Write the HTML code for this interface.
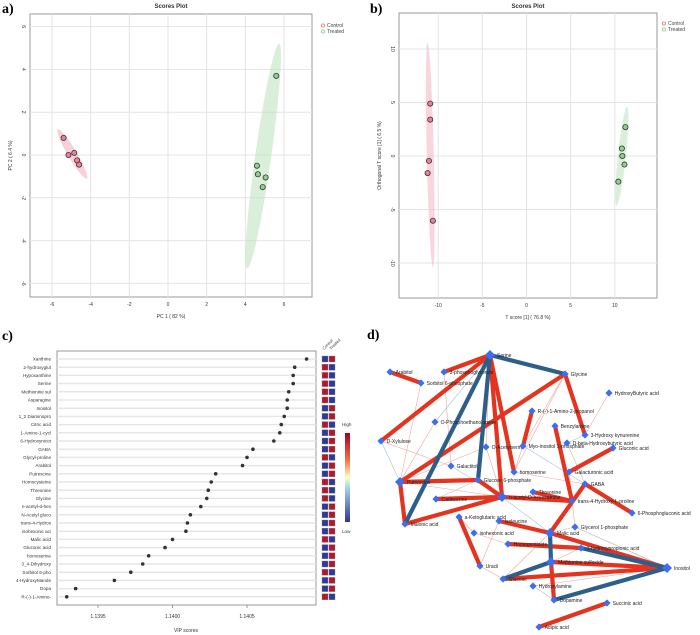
<!DOCTYPE html>
<html><head><meta charset="utf-8"><style>
body{margin:0;background:#fff;}
svg{display:block;font-family:"Liberation Sans",sans-serif;}
</style></head><body>
<svg id="fig" width="700" height="635" viewBox="0 0 700 635"></svg>
<script>
// ---- Panel a data
const aCtrlX=[-5.4,-5.15,-4.85,-4.7,-4.6];
const aCtrlY=[0.8,0.0,0.1,-0.25,-0.45];
const aTrtX=[5.6,4.6,4.65,5.05,4.9];
const aTrtY=[3.7,-0.5,-0.9,-1.05,-1.5];
const aXTicks=[-6,-4,-2,0,2,4,6];
const aYTicks=[6,4,2,0,-2,-4,-6];
// ---- Panel b data
const bCtrlX=[-10.9,-10.9,-11.05,-11.2,-10.6];
const bCtrlY=[4.9,3.4,-0.45,-1.6,-6.05];
const bTrtX=[11.2,10.8,10.85,11.1,10.4];
const bTrtY=[2.7,0.7,0.0,-0.8,-2.4];
const bXTicks=[-10,-5,0,5,10];
const bYTicks=[10,5,0,-5,-10];
// ---- Panel c data
const vipNames=["Xanthine","2-hydroxyglut","Hypoxanthine","Serine","Methionine sul","Asparagine","Inositol","1_2 Diaminopro","Citric acid","1-Amino-1-cycl","6-Hydroxynicot","GABA","Glycyl-proline","Arabitol","Putrescine","Homocysteine","Threonine","Glycine","n-acetyl-d-hex","N-Acetyl gluco","trans-4-Hydrox","isohexonic aci","Malic acid","Gluconic acid","homoserine","3_4-Dihydroxy","Sorbitol 6-pho","4-HydroxyMande","Dopa","R-(-)-1-Amino-"];
const vipValues=[1.14090,1.14082,1.14081,1.14081,1.14078,1.14077,1.14077,1.14075,1.14073,1.14072,1.14068,1.14054,1.14050,1.14047,1.14029,1.14026,1.14024,1.14023,1.14019,1.14012,1.14010,1.14009,1.14000,1.13995,1.13984,1.13980,1.13972,1.13961,1.13935,1.13929];
const ctrlHigh=[0,1,1,1,1,1,0,0,1,0,0,0,1,0,0,1,1,1,0,0,0,0,1,0,0,0,1,0,0,1];
const vipTicks=[1.1395,1.1400,1.1405];
// ---- Panel d data
const nodeNames=["Serine","Arabitol","Sorbitol 6-phosphate","3-phosphoglycerate","Glycine","HydroxyButyric acid","R-(-)-1-Amino-2-propanol","O-Phosphoethanolamine","Benzylamine","3-Hydroxy kynurenine","D-Xylulose","O-Acetylserine","Myo-inositol 1-phosphate","D-beta-Hydroxybutyric acid","Gluconic acid","Galactitol","homoserine","Galacturonic acid","Putrescine","Glucose 6-phosphate","GABA","Threonine","n-acetyl-D-hexosamine","Cadaverine","trans-4-Hydroxy-L-proline","6-Phosphogluconic acid","a-Ketoglutaric acid","Malonic acid","Isoleucine","Glycerol 1-phosphate","isohexonic acid","Malic acid","Homogentisate","3-hydroxypropionic acid","Uracil","Methionine sulfoxide","Inositol","Glucose","Hydroxylamine","Dopamine","Succinic acid","Adipic acid"];
const nodeX=[490,390,421,444,565,609,532,435,555,585,381,486,523,567,613,451,514,569,400,478,585,533,502,436,572,632,459,405,499,575,474,550,508,581,480,551,667,503,533,554,607,539];
const nodeY=[355,372,383,372,374,393,411,422,426,435,441,447,446,443,448,466,472,472,482,480,484,492,497,499,501,513,517,524,521,527,533,533,544,548,566,562,568,579,586,600,603,627];
// edges: [from,to,type] type 0 thin red,1 thin blue,2 thick red,3 thick blue
const edgeFrom=[0,0,0,0,0,0,0,1,4,4,6,8,14,20,20,24,21,18,18,23,27,19,26,28,31,31,35,33,32,37,37,39,35,40,0,0,4,4,10,10,18,18,7,11,15,12,16,22,22,31,29,33,34,30,38,38,17,13,5,9,25,3,2,19,36,36,26,28,12,31];
const edgeTo=[10,27,19,22,16,4,3,2,18,9,12,24,17,25,31,22,24,19,27,22,22,22,34,31,36,35,39,36,33,35,36,36,36,41,11,7,12,16,18,15,22,11,18,22,22,16,20,24,31,29,36,35,37,32,36,39,29,20,9,13,20,15,18,23,33,29,30,34,20,37];
const edgeType=[2,3,3,2,2,3,2,2,2,2,2,2,2,2,2,2,2,2,2,2,2,2,2,2,2,3,2,3,2,3,2,3,2,2,0,1,0,0,1,0,0,0,0,0,1,0,0,0,1,0,1,0,0,0,0,1,0,0,0,1,0,0,0,1,1,0,0,0,1,0];

const NS="http://www.w3.org/2000/svg";
const svg=document.getElementById('fig');
function mk(tag,attrs,parent,txt){const e=document.createElementNS(NS,tag);for(const k in attrs)e.setAttribute(k,attrs[k]);if(txt!==undefined)e.textContent=txt;(parent||svg).appendChild(e);return e;}

function scatterPanel(o){
  const g=mk('g',{});
  
  
  const sx=v=>o.x0+v*o.kx, sy=v=>o.y0-v*o.ky;
  mk('rect',{x:o.L,y:o.T,width:o.R-o.L,height:o.B-o.T,fill:'#fff',stroke:'#999','stroke-width':1},g);
  o.xt.forEach(t=>{mk('line',{x1:sx(t),x2:sx(t),y1:o.T,y2:o.B,stroke:'#e4e4e4','stroke-width':1},g);
    const tl=mk('text',{x:sx(t),y:o.B+9,'font-size':5,'text-anchor':'middle',fill:'#333'},g,t);
    });
  o.yt.forEach(t=>{mk('line',{x1:o.L,x2:o.R,y1:sy(t),y2:sy(t),stroke:'#e4e4e4','stroke-width':1},g);
    const tl=mk('text',{x:o.L-8,y:sy(t),'font-size':5,'text-anchor':'middle',fill:'#333',transform:`rotate(90 ${o.L-8} ${sy(t)})`},g,t);
    });
  o.ell.forEach(e=>{const x1=sx(e[0]),y1=sy(e[1]),x2=sx(e[2]),y2=sy(e[3]);
    const cx=(x1+x2)/2,cy=(y1+y2)/2,len=Math.hypot(x2-x1,y2-y1)/2,ang=Math.atan2(y2-y1,x2-x1)*180/Math.PI;
    const el=mk('ellipse',{cx:cx,cy:cy,rx:len,ry:e[4],fill:e[5],opacity:0.55,transform:`rotate(${ang} ${cx} ${cy})`},g);
    });
  o.series.forEach(s=>{s.xs.forEach((v,i)=>{const c=mk('circle',{cx:sx(v),cy:sy(s.ys[i]),r:2.6,fill:s.col,stroke:'#333','stroke-width':0.8},g);
    });});
  const ti=mk('text',{x:(o.L+o.R)/2,y:8,'font-size':6,'font-weight':'bold','text-anchor':'middle',fill:'#333'},g,'Scores Plot');
  
  const xl=mk('text',{x:(o.L+o.R)/2,y:o.B+21,'font-size':5,'text-anchor':'middle',fill:'#333'},g,o.xlab);
  
  const yx=o.L-18,yy=(o.T+o.B)/2;
  const yl=mk('text',{x:yx,y:yy,'font-size':5,'text-anchor':'middle',fill:'#333',transform:`rotate(-90 ${yx} ${yy})`},g,o.ylab);
  
  [['Control','#ee7f96',o.lx,o.ly],['Treated','#8fd08f',o.lx,o.ly+6]].forEach(l=>{
    const le=mk('g',{},g);
    mk('circle',{cx:l[2],cy:l[3]-1.5,r:1.6,fill:'none',stroke:l[1],'stroke-width':0.9},le);
    mk('text',{x:l[2]+4,y:l[3],'font-size':5,fill:'#444'},le,l[0]);});
  const pl=mk('text',{x:o.px,y:o.py,'font-size':14,'font-weight':'bold','font-family':'Liberation Serif',fill:'#000'},g,o.plab);
  
}
scatterPanel({name:'pca-scores-plot',L:30,R:312,T:14,B:297,x0:168,kx:19.33,y0:155,ky:21.4,xt:aXTicks,yt:aYTicks,
  ell:[[-5.7,1.2,-4.2,-1.1,4.5,'#f0a9b9'],[5.75,5.2,4.1,-5.3,8,'#b9e2b9']],
  series:[{xs:aCtrlX,ys:aCtrlY,col:'#ee7f96',nm:'control'},{xs:aTrtX,ys:aTrtY,col:'#8fd08f',nm:'treated'}],
  xlab:'PC 1 ( 82 %)',ylab:'PC 2 ( 6.4 %)',lx:323,ly:27,px:2,py:13,plab:'a)'});
scatterPanel({name:'oplsda-scores-plot',L:399,R:657,T:13,B:298,x0:526.5,kx:8.83,y0:156,ky:10.7,xt:bXTicks,yt:bYTicks,
  ell:[[-11.2,10.6,-10.6,-10.4,3.5,'#f4b3c3'],[11.4,4.6,10.2,-4.6,4,'#b9e2b9']],
  series:[{xs:bCtrlX,ys:bCtrlY,col:'#ee7f96',nm:'control'},{xs:bTrtX,ys:bTrtY,col:'#8fd08f',nm:'treated'}],
  xlab:'T score [1] ( 76.8 %)',ylab:'Orthogonal T score [1] ( 6.5 %)',lx:664,ly:25,px:370,py:13,plab:'b)'});

// ---- Panel c
(function(){
  const g=mk('g',{});
  const L=57,R=316,T=351,B=605,y0=359,step=8.2;
  const sx=v=>98+(v-1.1395)/0.0005*74.5;
  mk('rect',{x:L,y:T,width:R-L,height:B-T,fill:'#fff',stroke:'#999','stroke-width':1},g);
  vipNames.forEach((n,i)=>{const y=y0+i*step;
    mk('line',{x1:L,x2:R,y1:y,y2:y,stroke:'#e6e6e6','stroke-width':1.5},g);
    const t=mk('text',{x:L-6,y:y+1.6,'font-size':4.6,'text-anchor':'end',fill:'#333'},g,n);
    
    const c=mk('circle',{cx:sx(vipValues[i]),cy:y,r:1.8,fill:'#333'},g);
    
    const h=ctrlHigh[i];
    const r1=mk('rect',{x:322,y:y-3,width:6,height:6,fill:h?'#b0182e':'#2c3a9a',stroke:'#888','stroke-width':0.4},g);
    
    const r2=mk('rect',{x:329,y:y-3,width:6,height:6,fill:h?'#2c3a9a':'#b0182e',stroke:'#888','stroke-width':0.4},g);
    
  });
  vipTicks.forEach(t=>{mk('line',{x1:sx(t),x2:sx(t),y1:B,y2:B+3,stroke:'#999'},g);
    const tl=mk('text',{x:sx(t),y:B+13,'font-size':5,'text-anchor':'middle',fill:'#333'},g,t.toFixed(4));
    });
  const xl=mk('text',{x:186,y:632,'font-size':5,'text-anchor':'middle',fill:'#333'},g,'VIP scores');
  
  mk('text',{x:324,y:350,'font-size':4,fill:'#333',transform:'rotate(-45 324 350)'},g,'Control');
  mk('text',{x:331,y:350,'font-size':4,fill:'#333',transform:'rotate(-45 331 350)'},g,'Treated');
  const defs=mk('defs',{});
  const lg=mk('linearGradient',{id:'cb',x1:0,y1:0,x2:0,y2:1},defs);
  [['0','#a50026'],['0.3','#f46d43'],['0.5','#ffffbf'],['0.6','#abd9e9'],['1','#313695']].forEach(s=>mk('stop',{offset:s[0],'stop-color':s[1]},lg));
  const cb=mk('rect',{x:345,y:433,width:5,height:89,fill:'url(#cb)'},g);
  
  mk('text',{x:342,y:426,'font-size':4.6,fill:'#333'},g,'High');
  mk('text',{x:342,y:533,'font-size':4.6,fill:'#333'},g,'Low');
  const pl=mk('text',{x:2,y:340,'font-size':14,'font-weight':'bold','font-family':'Liberation Serif',fill:'#000'},g,'c)');
  
})();

// ---- Panel d
(function(){
  const g=mk('g',{});
  const order=[0,1,2,3].map(t=>edgeType.map((v,i)=>v===t?i:-1).filter(i=>i>=0));
  order.forEach(list=>list.forEach(i=>{const a=edgeFrom[i],b=edgeTo[i],t=edgeType[i];
    const col=t===0?'#f2a4a0':t===1?'#a8c2d8':t===2?'#e4331f':'#2d5f8a';
    const w=t<2?0.6:4.2;
    const l=mk('line',{x1:nodeX[a],y1:nodeY[a],x2:nodeX[b],y2:nodeY[b],stroke:col,'stroke-width':w},g);
    }));
  nodeNames.forEach((n,i)=>{const x=nodeX[i],y=nodeY[i];
    const big=[0,18,22,31,35,36].includes(i)?5:3.6;
    const nd=mk('g',{},g);
    mk('polygon',{points:`${x},${y-big} ${x+big},${y} ${x},${y+big} ${x-big},${y}`,fill:'#3d6ef0'},nd);
    mk('text',{x:x+big+2,y:y+1.8,'font-size':5,fill:'#222'},nd,n);});
  const pl=mk('text',{x:367,y:339,'font-size':14,'font-weight':'bold','font-family':'Liberation Serif',fill:'#000'},g,'d)');
  
})();
</script>
</body></html>
